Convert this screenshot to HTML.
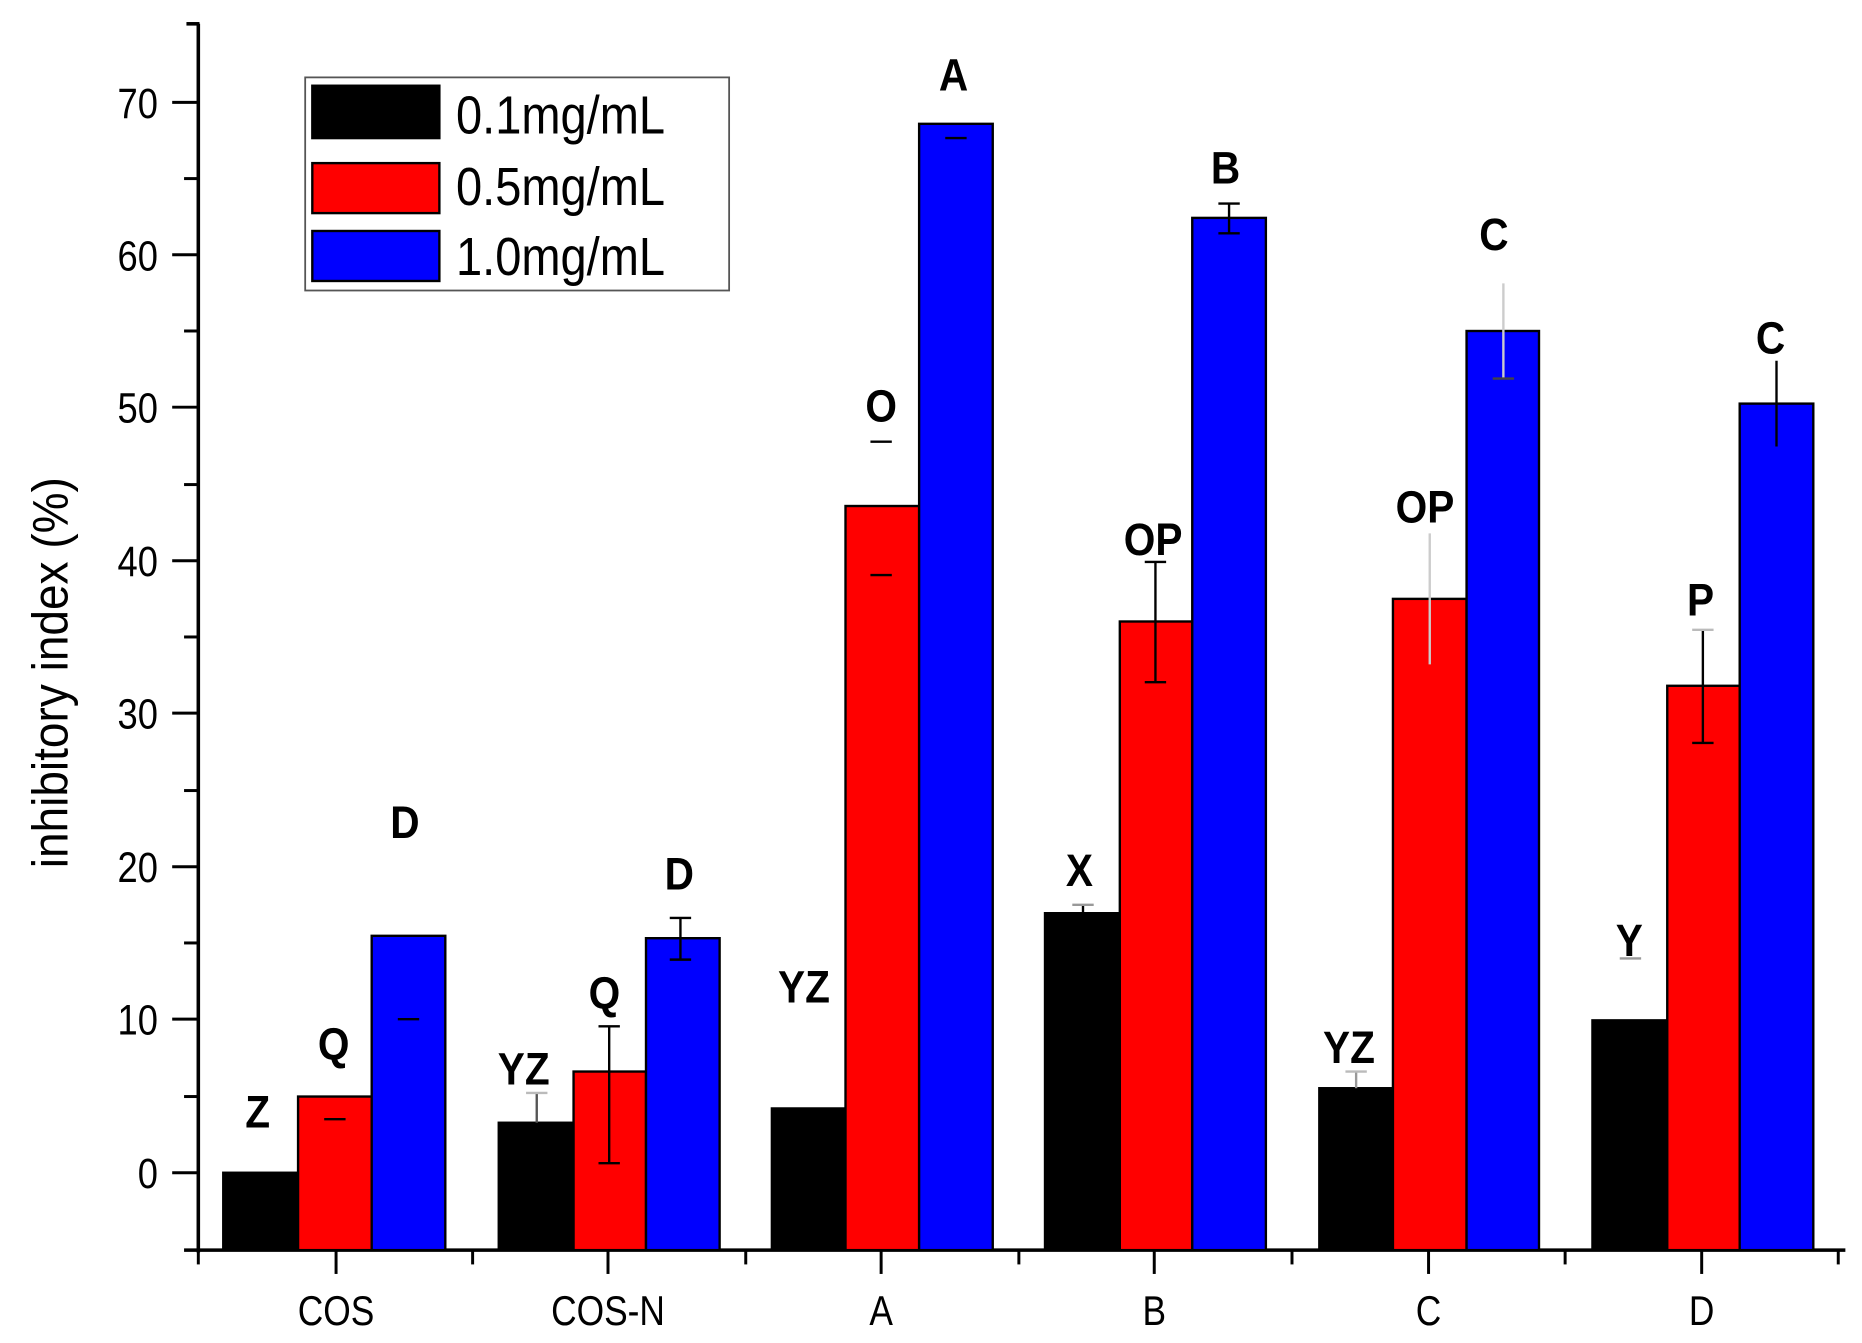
<!DOCTYPE html>
<html><head><style>
html,body{margin:0;padding:0;background:#fff;}
svg{display:block;}
text{font-family:"Liberation Sans",Arial,sans-serif;fill:#000;}
</style></head><body>
<svg width="1862" height="1343" viewBox="0 0 1568 1128" preserveAspectRatio="none" xmlns="http://www.w3.org/2000/svg">
<rect width="1568" height="1128" fill="#fff"/>
<line x1="167" y1="20" x2="167" y2="1052" stroke="#000" stroke-width="3"/>
<line x1="157" y1="20" x2="168" y2="20" stroke="#000" stroke-width="3"/>
<line x1="155" y1="1050" x2="1554" y2="1050" stroke="#000" stroke-width="3"/>
<g stroke="#000" stroke-width="2.5">
<line x1="145" y1="86" x2="167" y2="86"/><line x1="145" y1="214" x2="167" y2="214"/>
<line x1="145" y1="342" x2="167" y2="342"/><line x1="145" y1="471" x2="167" y2="471"/>
<line x1="145" y1="599" x2="167" y2="599"/><line x1="145" y1="728" x2="167" y2="728"/>
<line x1="145" y1="856" x2="167" y2="856"/><line x1="145" y1="985" x2="167" y2="985"/>
<line x1="155" y1="150" x2="167" y2="150"/><line x1="155" y1="278" x2="167" y2="278"/>
<line x1="155" y1="407" x2="167" y2="407"/><line x1="155" y1="535" x2="167" y2="535"/>
<line x1="155" y1="664" x2="167" y2="664"/><line x1="155" y1="792" x2="167" y2="792"/>
<line x1="155" y1="921" x2="167" y2="921"/>
<line x1="283" y1="1050" x2="283" y2="1070"/><line x1="512" y1="1050" x2="512" y2="1070"/>
<line x1="742" y1="1050" x2="742" y2="1070"/><line x1="972" y1="1050" x2="972" y2="1070"/>
<line x1="1203" y1="1050" x2="1203" y2="1070"/><line x1="1433" y1="1050" x2="1433" y2="1070"/>
<line x1="167" y1="1050" x2="167" y2="1062"/><line x1="398" y1="1050" x2="398" y2="1062"/>
<line x1="628" y1="1050" x2="628" y2="1062"/><line x1="858" y1="1050" x2="858" y2="1062"/>
<line x1="1088" y1="1050" x2="1088" y2="1062"/><line x1="1318" y1="1050" x2="1318" y2="1062"/>
<line x1="1548" y1="1050" x2="1548" y2="1062"/>
</g>
<g font-size="36" text-anchor="end" transform="translate(133,0) scale(0.85,1)">
<text x="0" y="99">70</text><text x="0" y="227">60</text><text x="0" y="355">50</text>
<text x="0" y="484">40</text><text x="0" y="612">30</text><text x="0" y="741">20</text>
<text x="0" y="869">10</text><text x="0" y="998">0</text>
</g>
<g font-size="35" text-anchor="middle">
<text transform="translate(283,1113) scale(0.85,1)">COS</text>
<text transform="translate(512,1113) scale(0.85,1)">COS-N</text>
<text transform="translate(742,1113) scale(0.85,1)">A</text>
<text transform="translate(972,1113) scale(0.85,1)">B</text>
<text transform="translate(1203,1113) scale(0.85,1)">C</text>
<text transform="translate(1433,1113) scale(0.85,1)">D</text>
</g>
<text transform="translate(57,565) rotate(-90) scale(0.92,1)" font-size="42" text-anchor="middle">inhibitory index (%)</text>
<g stroke="#000" stroke-width="2">
<rect x="188" y="985" width="63" height="65" fill="#000"/>
<rect x="251" y="921" width="62" height="129" fill="#f00"/>
<rect x="313" y="786" width="62" height="264" fill="#00f"/>
<rect x="420" y="943" width="63" height="107" fill="#000"/>
<rect x="483" y="900" width="61" height="150" fill="#f00"/>
<rect x="544" y="788" width="62" height="262" fill="#00f"/>
<rect x="650" y="931" width="62" height="119" fill="#000"/>
<rect x="712" y="425" width="62" height="625" fill="#f00"/>
<rect x="774" y="104" width="62" height="946" fill="#00f"/>
<rect x="880" y="767" width="63" height="283" fill="#000"/>
<rect x="943" y="522" width="61" height="528" fill="#f00"/>
<rect x="1004" y="183" width="62" height="867" fill="#00f"/>
<rect x="1111" y="914" width="62" height="136" fill="#000"/>
<rect x="1173" y="503" width="62" height="547" fill="#f00"/>
<rect x="1235" y="278" width="61" height="772" fill="#00f"/>
<rect x="1341" y="857" width="63" height="193" fill="#000"/>
<rect x="1404" y="576" width="61" height="474" fill="#f00"/>
<rect x="1465" y="339" width="62" height="711" fill="#00f"/>
</g>
<g stroke="#000" stroke-width="2">
<line x1="273" y1="940" x2="291" y2="940"/><line x1="335" y1="856" x2="353" y2="856"/>
<line x1="452" y1="918" x2="452" y2="943" stroke="#555"/><line x1="443" y1="918" x2="461" y2="918" stroke="#bbb"/>
<line x1="513" y1="862" x2="513" y2="977"/><line x1="504" y1="862" x2="522" y2="862"/><line x1="504" y1="977" x2="522" y2="977"/>
<line x1="573" y1="771" x2="573" y2="806"/><line x1="564" y1="771" x2="582" y2="771"/><line x1="564" y1="806" x2="582" y2="806"/>
<line x1="733" y1="371" x2="751" y2="371"/><line x1="733" y1="483" x2="751" y2="483"/>
<line x1="796" y1="116" x2="814" y2="116"/>
<line x1="912" y1="760" x2="912" y2="767"/><line x1="903" y1="760" x2="921" y2="760" stroke="#999"/>
<line x1="973" y1="472" x2="973" y2="573"/><line x1="964" y1="472" x2="982" y2="472"/><line x1="964" y1="573" x2="982" y2="573"/>
<line x1="1035" y1="171" x2="1035" y2="196"/><line x1="1026" y1="171" x2="1044" y2="171"/><line x1="1026" y1="196" x2="1044" y2="196"/>
<line x1="1142" y1="900" x2="1142" y2="914" stroke="#999"/><line x1="1133" y1="900" x2="1151" y2="900" stroke="#bbb"/>
<line x1="1204" y1="448" x2="1204" y2="558" stroke="#ccc"/>
<line x1="1266" y1="238" x2="1266" y2="318" stroke="#ccc"/><line x1="1257" y1="318" x2="1275" y2="318" stroke="#444"/>
<line x1="1364" y1="805" x2="1382" y2="805" stroke="#999"/>
<line x1="1434" y1="529" x2="1434" y2="624"/><line x1="1425" y1="529" x2="1443" y2="529" stroke="#bbb"/><line x1="1425" y1="624" x2="1443" y2="624"/>
<line x1="1496" y1="303" x2="1496" y2="375"/>
</g>
<g font-size="38" text-anchor="middle" font-weight="bold">
<text transform="translate(217,947) scale(0.9,1)">Z</text><text transform="translate(281,890) scale(0.9,1)">Q</text><text transform="translate(341,704) scale(0.9,1)">D</text>
<text transform="translate(441,911) scale(0.9,1)">YZ</text><text transform="translate(509,847) scale(0.9,1)">Q</text><text transform="translate(572,747) scale(0.9,1)">D</text>
<text transform="translate(677,842) scale(0.9,1)">YZ</text><text transform="translate(742,354) scale(0.9,1)">O</text><text transform="translate(803,76) scale(0.9,1)">A</text>
<text transform="translate(909,744) scale(0.9,1)">X</text><text transform="translate(971,466) scale(0.9,1)">OP</text><text transform="translate(1032,154) scale(0.9,1)">B</text>
<text transform="translate(1136,893) scale(0.9,1)">YZ</text><text transform="translate(1200,439) scale(0.9,1)">OP</text><text transform="translate(1258,210) scale(0.9,1)">C</text>
<text transform="translate(1372,803) scale(0.9,1)">Y</text><text transform="translate(1432,517) scale(0.9,1)">P</text><text transform="translate(1491,297) scale(0.9,1)">C</text>
</g>
<rect x="257" y="65" width="357" height="179" fill="#fff" stroke="#555" stroke-width="1.5"/>
<rect x="263" y="72" width="107" height="44" fill="#000" stroke="#000" stroke-width="2"/>
<rect x="263" y="137" width="107" height="42" fill="#f00" stroke="#000" stroke-width="2"/>
<rect x="263" y="194" width="107" height="42" fill="#00f" stroke="#000" stroke-width="2"/>
<g font-size="45">
<text transform="translate(384,112) scale(0.88,1)">0.1mg/mL</text>
<text transform="translate(384,172) scale(0.88,1)">0.5mg/mL</text>
<text transform="translate(384,231) scale(0.88,1)">1.0mg/mL</text>
</g>
</svg>
</body></html>
